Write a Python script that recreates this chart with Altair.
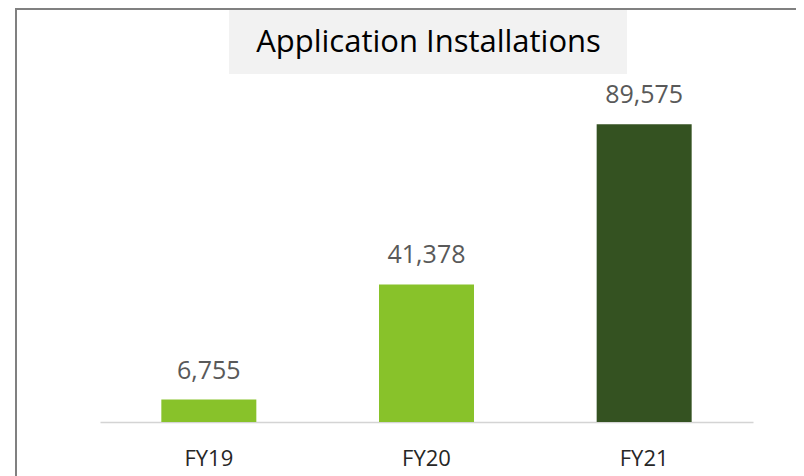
import altair as alt
import pandas as pd

years = ["FY19", "FY20", "FY21"]
installs = [6755, 41378, 89575]
bar_colors = ["#88c22a", "#88c22a", "#345221"]
labels = ["6,755", "41,378", "89,575"]
title_text = "Application Installations"

df = pd.DataFrame({"year": years, "value": installs, "label": labels})

FONT = "Open Sans"

x_enc = alt.X(
    "year:N",
    sort=years,
    scale=alt.Scale(paddingInner=0, paddingOuter=0),
    axis=alt.Axis(
        title=None,
        ticks=False,
        tickSize=0,
        domain=True,
        domainColor="#d4d4d4",
        domainWidth=1.5,
        labelFont=FONT,
        labelFontSize=22,
        labelColor="#262626",
        labelBaseline="alphabetic",
        labelPadding=43,
        labelAngle=0,
        grid=False,
    ),
)
y_enc = alt.Y("value:Q", scale=alt.Scale(domain=[0, 120000], nice=False), axis=None)

base = alt.Chart(df)

bars = base.mark_bar(size=95).encode(
    x=x_enc,
    y=y_enc,
    color=alt.Color("year:N", scale=alt.Scale(domain=years, range=bar_colors), legend=None),
)

values_text = base.mark_text(
    font=FONT, fontSize=25, color="#595959", baseline="alphabetic", dy=-21
).encode(x=alt.X("year:N", sort=years), y=y_enc, text="label:N")

one = alt.Data(values=[{"t": title_text}])

title_box = alt.Chart(one).mark_rect(color="#f2f2f2").encode(
    x=alt.value(129), x2=alt.value(527), y=alt.value(-15), y2=alt.value(51)
)
title_mark = alt.Chart(one).mark_text(
    font=FONT, fontSize=31, color="#000000", baseline="alphabetic", align="center"
).encode(x=alt.value(328.5), y=alt.value(29), text="t:N")

left_border = alt.Chart(one).mark_rule(color="#808080", strokeWidth=2).encode(
    x=alt.value(-84), y=alt.value(-15), y2=alt.value(470)
)
top_border = alt.Chart(one).mark_rule(color="#808080", strokeWidth=2).encode(
    x=alt.value(-85), x2=alt.value(720), y=alt.value(-14)
)

chart = (
    alt.layer(title_box, title_mark, left_border, top_border, bars, values_text)
    .properties(
        width=653,
        height=399,
        autosize=alt.AutoSizeParams(type="none"),
        padding={"left": 92, "top": 15, "right": 43, "bottom": 54},
        background="#ffffff",
    )
    .configure_view(stroke=None)
)

chart.save("out.html", embed_options={"renderer": "svg", "actions": False})
